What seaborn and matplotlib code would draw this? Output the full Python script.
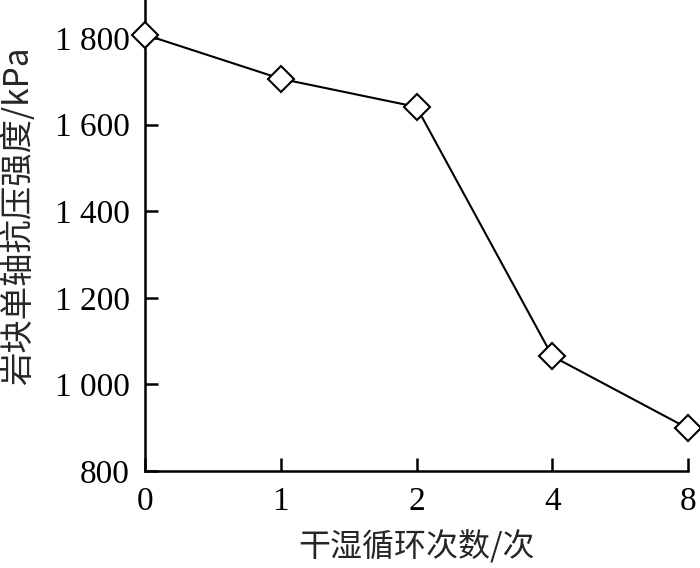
import numpy as np
import pandas as pd
import matplotlib
matplotlib.use('Agg')
import matplotlib.pyplot as plt
import seaborn as sns

## data
cycles = ['0', '1', '2', '4', '8']
strength = [1808, 1706, 1641, 1065, 898]
y_ticks = [800, 1000, 1200, 1400, 1600, 1800]
y_tick_labels = ['800', '1 000', '1 200', '1 400', '1 600', '1 800']

## config.
sns.set_theme(style='ticks')
plt.rcParams['font.family'] = ['Liberation Serif', 'Noto Sans CJK SC', 'DejaVu Sans']

df = pd.DataFrame({'cycles': cycles, 'strength': strength})

fig = plt.figure(figsize=(7, 5.68), dpi=100)
ax = fig.add_axes([0.207, 0.171, 0.776, 0.829])

sns.lineplot(data=df, x='cycles', y='strength', ax=ax, sort=False,
             color='black', linewidth=1.5, marker='D', markersize=13,
             markerfacecolor='white', markeredgecolor='black',
             markeredgewidth=1.5, clip_on=False, zorder=5)

ax.set_xlim(0, len(cycles) - 1)
ax.set_ylim(800, 1888)
ax.set_yticks(y_ticks)
ax.set_yticklabels(y_tick_labels)

for side in ['top', 'right']:
    ax.spines[side].set_visible(False)
for side in ['left', 'bottom']:
    ax.spines[side].set_linewidth(1.8)
    ax.spines[side].set_color('black')

# inward ticks, black
ax.tick_params(which='major', direction='in', length=9.5, width=1.8,
               color='black', labelcolor='black', labelsize=24, pad=11)
ax.set_xlabel('干湿循环次数/次', fontsize=23,
              family=['Noto Sans CJK SC', 'Liberation Serif'])
ax.set_ylabel('岩块单轴抗压强度/kPa', fontsize=24,
              family=['Noto Sans CJK SC', 'Liberation Serif'])
ax.xaxis.set_label_coords(0.5, -0.125)
ax.yaxis.set_label_coords(-0.2, 0.541)

fig.savefig('out.png', dpi=100)
